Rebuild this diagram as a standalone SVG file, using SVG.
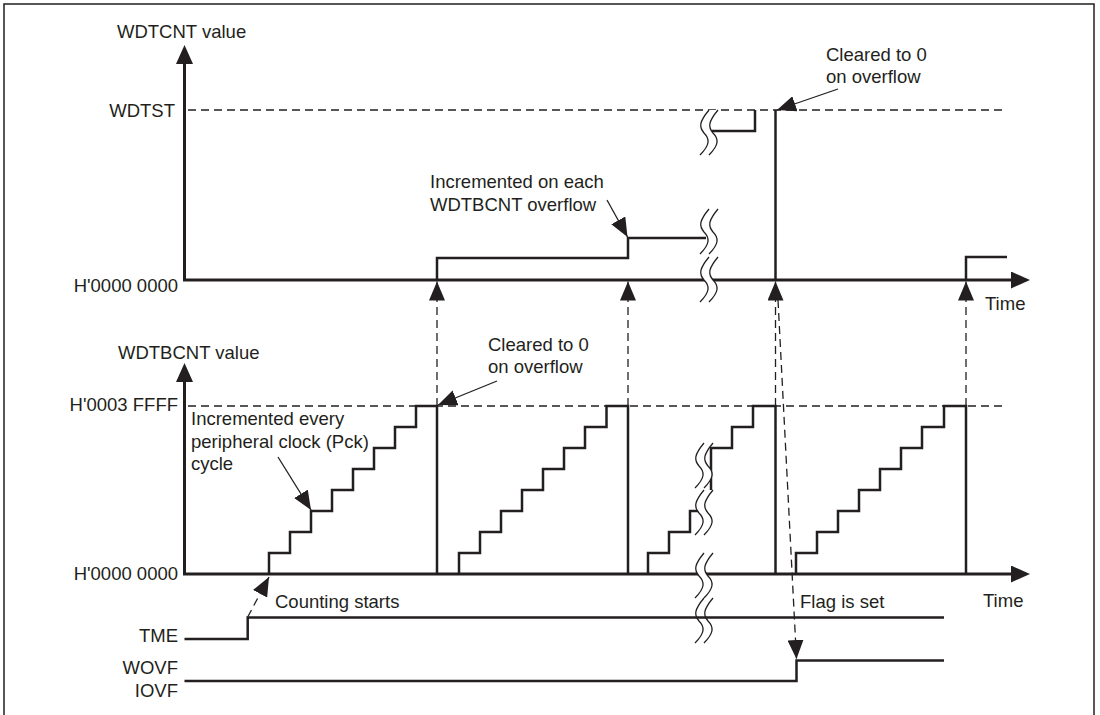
<svg xmlns="http://www.w3.org/2000/svg" width="1100" height="715" viewBox="0 0 1100 715">
<style>
text { font-family: "Liberation Sans", Arial, Helvetica, sans-serif; font-size: 18.5px; fill: #231f20; }
.end { text-anchor: end; }
.axis { fill: none; stroke: #231f20; stroke-width: 3; marker-end: url(#ax); }
.wave { fill: none; stroke: #231f20; stroke-width: 2.5; }
.ref { fill: none; stroke: #231f20; stroke-width: 1.3; stroke-dasharray: 8 5; }
.dash { fill: none; stroke: #231f20; stroke-width: 1.3; stroke-dasharray: 8 5; marker-end: url(#ah); }
.lead { fill: none; stroke: #231f20; stroke-width: 1.3; marker-end: url(#ah); }
.sqline { fill: none; stroke: #231f20; stroke-width: 1.3; }
</style>
<defs>
  <marker id="ah" viewBox="0 -8 19 16" refX="19" refY="0" markerWidth="19" markerHeight="16" markerUnits="userSpaceOnUse" orient="auto">
    <path d="M0,-8 L19,0 L0,8 Z" fill="#231f20"/>
  </marker>
  <marker id="ax" viewBox="0 -8.5 19 17" refX="15" refY="0" markerWidth="19" markerHeight="17" markerUnits="userSpaceOnUse" orient="auto">
    <path d="M0,-8.5 L19,0 L0,8.5 Z" fill="#231f20"/>
  </marker>
  <g id="sq">
    <path d="M11,0 C1,12 1,17 6,23 C12,29 12,35 2,45 L11,45 C21,35 21,29 15,23 C10,17 10,12 20,0 Z" fill="#ffffff"/>
    <path class="sqline" d="M11,0 C1,12 1,17 6,23 C12,29 12,35 2,45 M20,0 C10,12 10,17 15,23 C21,29 21,35 11,45"/>
  </g>
</defs>

<rect x="4" y="4" width="1090" height="720" fill="#ffffff" stroke="#231f20" stroke-width="1.5"/>

<g id="wdtcnt-plot">
  <path class="axis" d="M184.5,280 V49"/>
  <path class="axis" d="M183,280 H1026"/>
  <line class="ref" x1="188" y1="110" x2="1007" y2="110"/>
  <path class="wave" d="M437,280 V258 H628 V238 H706"/>
  <path class="wave" d="M712,131 H755 V110"/>
  <path class="wave" d="M775.5,110 V280"/>
  <path class="wave" d="M966,280 V257 H1007"/>
  <use href="#sq" x="698" y="110"/>
  <use href="#sq" x="698" y="209"/>
  <use href="#sq" x="698" y="257"/>
  <text x="117" y="38">WDTCNT value</text>
  <text class="end" x="175" y="117">WDTST</text>
  <text class="end" x="178" y="292">H'0000 0000</text>
  <text x="985" y="310">Time</text>
  <text x="430" y="188">Incremented on each</text>
  <text x="430" y="211">WDTBCNT overflow</text>
  <text x="826" y="61">Cleared to 0</text>
  <text x="826" y="83">on overflow</text>
</g>

<g id="wdtbcnt-plot">
  <path class="axis" d="M184.5,574 V367"/>
  <path class="axis" d="M183,574 H1026"/>
  <line class="ref" x1="188" y1="406" x2="1007" y2="406"/>
  <path class="wave" d="M269,574 V553 H290 V532 H311 V511 H332 V490 H353 V469 H374 V448 H395 V427 H416 V406 H437 V574"/>
  <path class="wave" d="M459,574 V553 H480 V532 H501 V511 H522 V490 H543 V469 H564 V448 H585 V427 H606.5 V406 H628 V574"/>
  <path class="wave" d="M648,574 V553 H669 V532 H690 V511 H706"/>
  <path class="wave" d="M711,490 V448 H732 V427 H753 V406 H775.5 V574"/>
  <path class="wave" d="M796,574 V553 H817 V532 H838 V511 H859 V490 H880 V469 H901 V448 H922 V427 H944 V406 H966 V574"/>
  <use href="#sq" x="693" y="443"/>
  <use href="#sq" x="693" y="490"/>
  <use href="#sq" x="693" y="553"/>
  <use href="#sq" x="693" y="598"/>
  <text x="118" y="359">WDTBCNT value</text>
  <text class="end" x="178" y="411">H'0003 FFFF</text>
  <text class="end" x="178" y="580">H'0000 0000</text>
  <text x="983" y="607">Time</text>
  <text x="191" y="425">Incremented every</text>
  <text x="191" y="448">peripheral clock (Pck)</text>
  <text x="191" y="470">cycle</text>
  <text x="488" y="351">Cleared to 0</text>
  <text x="488" y="373">on overflow</text>
</g>

<g id="signals">
  <path class="wave" d="M184.5,639 H247.7 V617.5 H944"/>
  <path class="wave" d="M184.5,681 H796.5 V660.5 H944"/>
  <text class="end" x="178" y="642">TME</text>
  <text class="end" x="178" y="674">WOVF</text>
  <text class="end" x="178" y="697">IOVF</text>
  <text x="275" y="608">Counting starts</text>
  <text x="800" y="608">Flag is set</text>
</g>

<g id="connectors">
  <line class="dash" x1="437" y1="406" x2="437" y2="281.5"/>
  <line class="dash" x1="628" y1="406" x2="628" y2="281.5"/>
  <line class="dash" x1="775.5" y1="406" x2="775.5" y2="281.5"/>
  <line class="dash" x1="966" y1="406" x2="966" y2="281.5"/>
  <line class="dash" x1="778" y1="300" x2="796.5" y2="659"/>
  <line class="dash" x1="247.7" y1="617" x2="269" y2="577"/>
  <line class="lead" x1="607" y1="200" x2="627.5" y2="237"/>
  <line class="lead" x1="838" y1="89" x2="777" y2="110"/>
  <line class="lead" x1="497" y1="381" x2="438" y2="405"/>
  <line class="lead" x1="278" y1="457" x2="311" y2="510"/>
</g>
</svg>
